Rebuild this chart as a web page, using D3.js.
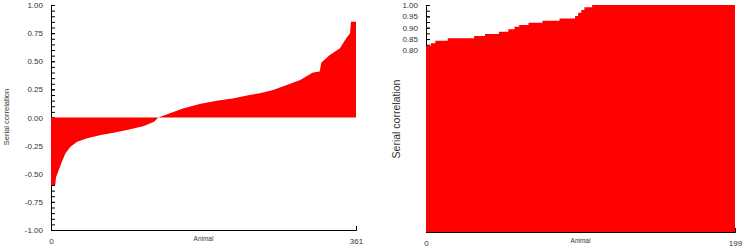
<!DOCTYPE html>
<html>
<head>
<meta charset="utf-8">
<script src="https://cdn.jsdelivr.net/npm/d3@7"></script>
<style>
  body { margin: 0; background: #fff; }
  svg text { font-family: "Liberation Sans", Arial, sans-serif; fill: #333; }
  .axis path, .axis line { stroke: #000; }
</style>
</head>
<body>
<svg width="743" height="250"></svg>
<script>
// left panel: 361 animals, sorted serial correlation (breakpoints)
const leftAnimal = [0, 5, 6, 9, 13, 17, 23, 31, 43, 59, 74, 94, 110, 122, 127, 140, 156, 176, 196, 215, 235, 247, 263, 279, 295, 310, 318, 320, 330, 342, 349, 354, 355, 361];
const leftCorr   = [-0.60, -0.60, -0.53, -0.47, -0.39, -0.32, -0.26, -0.215, -0.185, -0.156, -0.135, -0.105, -0.076, -0.037, 0.0, 0.035, 0.08, 0.12, 0.148, 0.17, 0.20, 0.215, 0.244, 0.29, 0.333, 0.40, 0.41, 0.49, 0.556, 0.615, 0.70, 0.75, 0.852, 0.852];
const leftYTicks = [-1, -0.75, -0.5, -0.25, 0, 0.25, 0.5, 0.75, 1];
const leftXTicks = [0, 361];

// right panel: 199 animals, step breakpoints
const rightAnimal = [0, 3, 6, 14, 31, 38, 47, 53, 57, 60, 66, 75, 86, 96, 98, 100, 102, 107, 199];
const rightCorr   = [0.819, 0.831, 0.843, 0.853, 0.863, 0.872, 0.882, 0.893, 0.904, 0.912, 0.922, 0.931, 0.941, 0.952, 0.966, 0.978, 0.990, 1.0, 1.0];
const rightYTicks = [0.80, 0.85, 0.90, 0.95, 1.00];
const rightXTicks = [0, 199];

const svg = d3.select("svg");

function panel(cfg) {
  const data = cfg.animal.map((a, i) => ({animal: a, corr: cfg.corr[i]}));
  const x = d3.scaleLinear().domain([0, cfg.n]).range(cfg.xRange);
  const y = d3.scaleLinear().domain(cfg.yDomain).range(cfg.yRange);
  const g = svg.append("g");

  // minor ticks
  g.append("g")
    .attr("class", "axis")
    .attr("transform", `translate(${cfg.xRange[0]},0)`)
    .call(d3.axisLeft(y).tickValues(cfg.minor).tickSize(-4).tickSizeOuter(-4).tickFormat(""));

  // labelled y axis
  g.append("g")
    .attr("class", "axis")
    .attr("transform", `translate(${cfg.xRange[0]},0)`)
    .call(d3.axisLeft(y).tickValues(cfg.yTicks).tickSize(-4).tickSizeOuter(-4).tickPadding(8)
      .tickFormat(d => d.toFixed(2)))
    .call(a => a.select(".domain").remove())
    .selectAll("text").style("font-size", "8px");

  // x axis
  g.append("g")
    .attr("class", "axis")
    .attr("transform", `translate(0,${cfg.yRange[0]})`)
    .call(d3.axisBottom(x).tickValues(cfg.xTicks).tickSize(-4).tickSizeOuter(-4).tickPadding(8))
    .selectAll("text").style("font-size", "8px");

  // red area
  const area = d3.area()
    .x(d => x(d.animal))
    .y0(y(0))
    .y1(d => y(d.corr))
    .curve(cfg.curve);
  g.append("path")
    .datum(data)
    .attr("fill", "#ff0000")
    .attr("d", area);

  // titles
  g.append("text")
    .attr("transform", `translate(${cfg.titleX},${cfg.titleY}) rotate(-90)`)
    .attr("text-anchor", "middle")
    .style("font-size", cfg.titleSize)
    .text("Serial correlation");
  g.append("text")
    .attr("x", (cfg.xRange[0] + cfg.xRange[1]) / 2)
    .attr("y", cfg.yRange[0] + 11)
    .attr("text-anchor", "middle")
    .style("font-size", "6.5px")
    .text("Animal");
}

panel({
  animal: leftAnimal, corr: leftCorr, n: 361,
  xRange: [51, 356], yDomain: [-1, 1], yRange: [230, 5],
  yTicks: leftYTicks, xTicks: leftXTicks, minor: d3.range(-1, 1.001, 0.05),
  curve: d3.curveLinear, titleX: 9, titleY: 117, titleSize: "7.5px"
});

panel({
  animal: rightAnimal, corr: rightCorr, n: 199,
  xRange: [426, 735], yDomain: [0, 1], yRange: [232, 5],
  yTicks: rightYTicks, xTicks: rightXTicks, minor: d3.range(0, 1.001, 0.025),
  curve: d3.curveStepAfter, titleX: 400, titleY: 119, titleSize: "10.5px"
});
</script>
</body>
</html>
